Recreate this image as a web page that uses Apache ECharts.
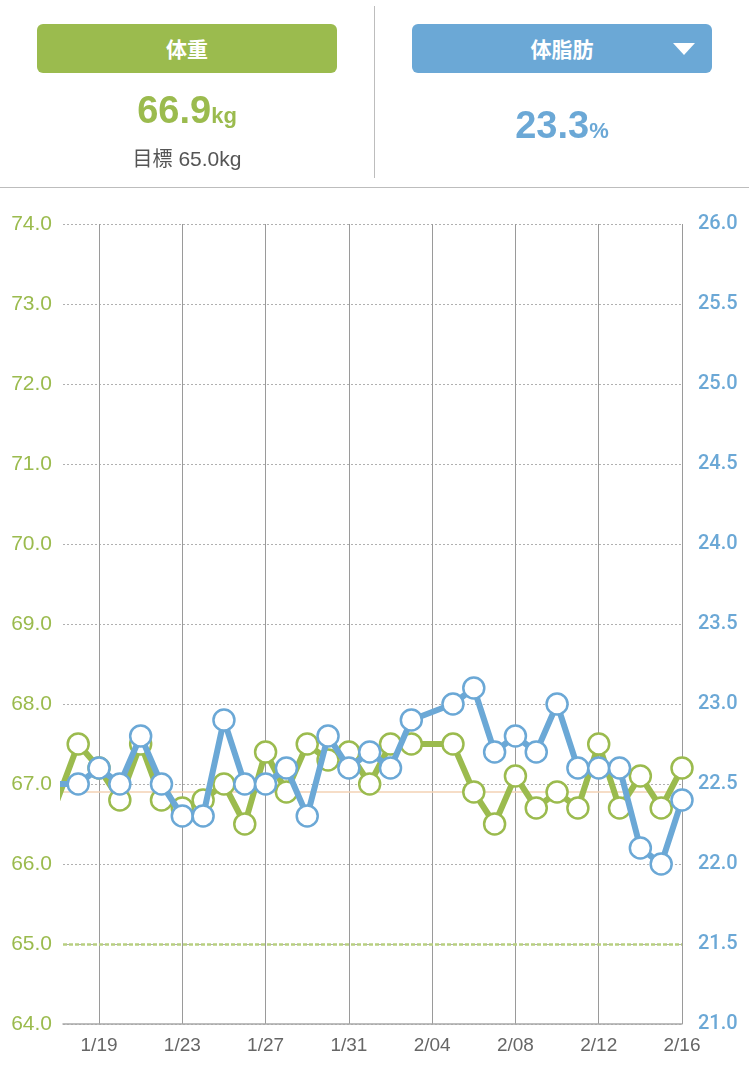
<!DOCTYPE html>
<html>
<head>
<meta charset="utf-8">
<script src="https://cdn.jsdelivr.net/npm/echarts@6/dist/echarts.min.js"></script>
<style>
  html, body { margin: 0; padding: 0; background: #fff; }
  body { width: 749px; height: 1068px; position: relative; overflow: hidden;
         font-family: "Liberation Sans", "Noto Sans CJK JP", sans-serif; }
  #chart { position: absolute; left: 0; top: 0; width: 749px; height: 1068px; }
  .btn { position: absolute; top: 24px; width: 300px; height: 49px; border-radius: 6px;
         color: #fff; font-family: "Noto Sans CJK JP", sans-serif; font-weight: bold;
         font-size: 21px; line-height: 49px; text-align: center; }
  .tri { position: absolute; right: 17px; top: 19px; width: 0; height: 0;
         border-left: 11px solid transparent; border-right: 11px solid transparent;
         border-top: 12px solid #fff; }
  .big { position: absolute; width: 300px; text-align: center; font-weight: bold; font-size: 38px;
         font-family: "Liberation Sans", sans-serif; }
  .big small { font-size: 22px; }
  .goal { position: absolute; left: 37px; width: 300px; top: 143px; text-align: center;
          color: #555; font-size: 21px; font-family: "Liberation Sans", "Noto Sans CJK JP", sans-serif; }
  .goal span { font-family: "Noto Sans CJK JP", sans-serif; font-size: 20px; }
</style>
</head>
<body>
<div id="chart"></div>
<div class="btn" style="left:37px;background:#9bbb4e;">体重</div>
<div class="btn" style="left:412px;background:#6ba8d6;">体脂肪<div class="tri"></div></div>
<div class="big" style="left:37px;top:89px;color:#9bbb4e;">66.9<small>kg</small></div>
<div class="goal"><span>目標</span> 65.0kg</div>
<div class="big" style="left:412px;top:104px;color:#6ba8d6;">23.3<small>%</small></div>
<div style="position:absolute;left:374px;top:6px;width:1px;height:172px;background:#bdbdbd;"></div>
<div style="position:absolute;left:0;top:187px;width:749px;height:1px;background:#bdbdbd;"></div>
<script>
// 1/17 .. 2/16 (1/17 sits just left of the visible range)
const dates = ['1/17','1/18','1/19','1/20','1/21','1/22','1/23','1/24','1/25','1/26',
  '1/27','1/28','1/29','1/30','1/31','2/01','2/02','2/03','2/04','2/05',
  '2/06','2/07','2/08','2/09','2/10','2/11','2/12','2/13','2/14','2/15','2/16'];
const weight = [66.8, 67.5, 67.2, 66.8, 67.5, 66.8, 66.7, 66.8, 67.0, 66.5,
  67.4, 66.9, 67.5, 67.3, 67.4, 67.0, 67.5, 67.5, null, 67.5,
  66.9, 66.5, 67.1, 66.7, 66.9, 66.7, 67.5, 66.7, 67.1, 66.7, 67.2];
const bodyFat = [22.5, 22.5, 22.6, 22.5, 22.8, 22.5, 22.3, 22.3, 22.9, 22.5,
  22.5, 22.6, 22.3, 22.8, 22.6, 22.7, 22.6, 22.9, null, 23.0,
  23.1, 22.7, 22.8, 22.7, 23.0, 22.6, 22.6, 22.6, 22.1, 22.0, 22.4];
const xTickLabels = ['1/19','1/23','1/27','1/31','2/04','2/08','2/12','2/16'];
const goalWeight = 65.0;
const currentWeight = 66.9;

const GREEN = '#9bbb4e';
const BLUE = '#6ba8d6';

const xTicks = xTickLabels.map(function (l) { return dates.indexOf(l); });
const toPairs = function (arr) {
  return arr.map(function (v, i) { return [i, v]; });
};

const chart = echarts.init(document.getElementById('chart'));
chart.setOption({
  animation: false,
  grid: { left: 63, right: 67, top: 224, bottom: 44 },
  xAxis: {
    type: 'value',
    min: 0.27,
    max: 30,
    axisLine: { show: true, lineStyle: { color: '#a8a8a8', width: 1.5 } },
    axisTick: { show: false, customValues: xTicks },
    splitLine: { show: true, lineStyle: { color: '#9a9a9a', width: 1 } },
    axisLabel: {
      customValues: xTicks,
      formatter: function (v) { return dates[Math.round(v)]; },
      color: '#666', fontSize: 19, fontFamily: 'Liberation Sans', margin: 12
    }
  },
  yAxis: [{
    type: 'value', min: 64, max: 74, interval: 1,
    axisLine: { show: false }, axisTick: { show: false },
    splitLine: { lineStyle: { color: '#b0b0b0', type: [2, 2], width: 1 } },
    axisLabel: {
      formatter: function (v) { return v.toFixed(1); },
      color: GREEN, fontSize: 21, fontFamily: 'Liberation Sans', margin: 11
    }
  }, {
    type: 'value', min: 21, max: 26, interval: 0.5,
    axisLine: { show: false }, axisTick: { show: false },
    splitLine: { show: false },
    axisLabel: {
      formatter: function (v) { return v.toFixed(1); },
      color: BLUE, fontSize: 20, fontWeight: 500, fontFamily: 'Roboto', margin: 16
    }
  }],
  series: [{
    name: '体重',
    type: 'line',
    yAxisIndex: 0,
    z: 3,
    data: toPairs(weight),
    connectNulls: true,
    symbol: 'circle',
    symbolSize: 21,
    lineStyle: { color: GREEN, width: 6 },
    itemStyle: { color: '#fff', borderColor: GREEN, borderWidth: 2.5 },
    markLine: {
      z: 1,
      silent: true,
      symbol: 'none',
      label: { show: false },
      data: [
        { yAxis: goalWeight, lineStyle: { color: '#b8cf80', type: [4, 2], width: 2.5 } },
        { yAxis: currentWeight, lineStyle: { color: '#f3d2b5', type: 'solid', width: 1.5 } }
      ]
    }
  }, {
    name: '体脂肪',
    type: 'line',
    yAxisIndex: 1,
    z: 4,
    data: toPairs(bodyFat),
    connectNulls: true,
    symbol: 'circle',
    symbolSize: 21,
    lineStyle: { color: BLUE, width: 6 },
    itemStyle: { color: '#fff', borderColor: BLUE, borderWidth: 2.5 }
  }]
});
</script>
</body>
</html>
